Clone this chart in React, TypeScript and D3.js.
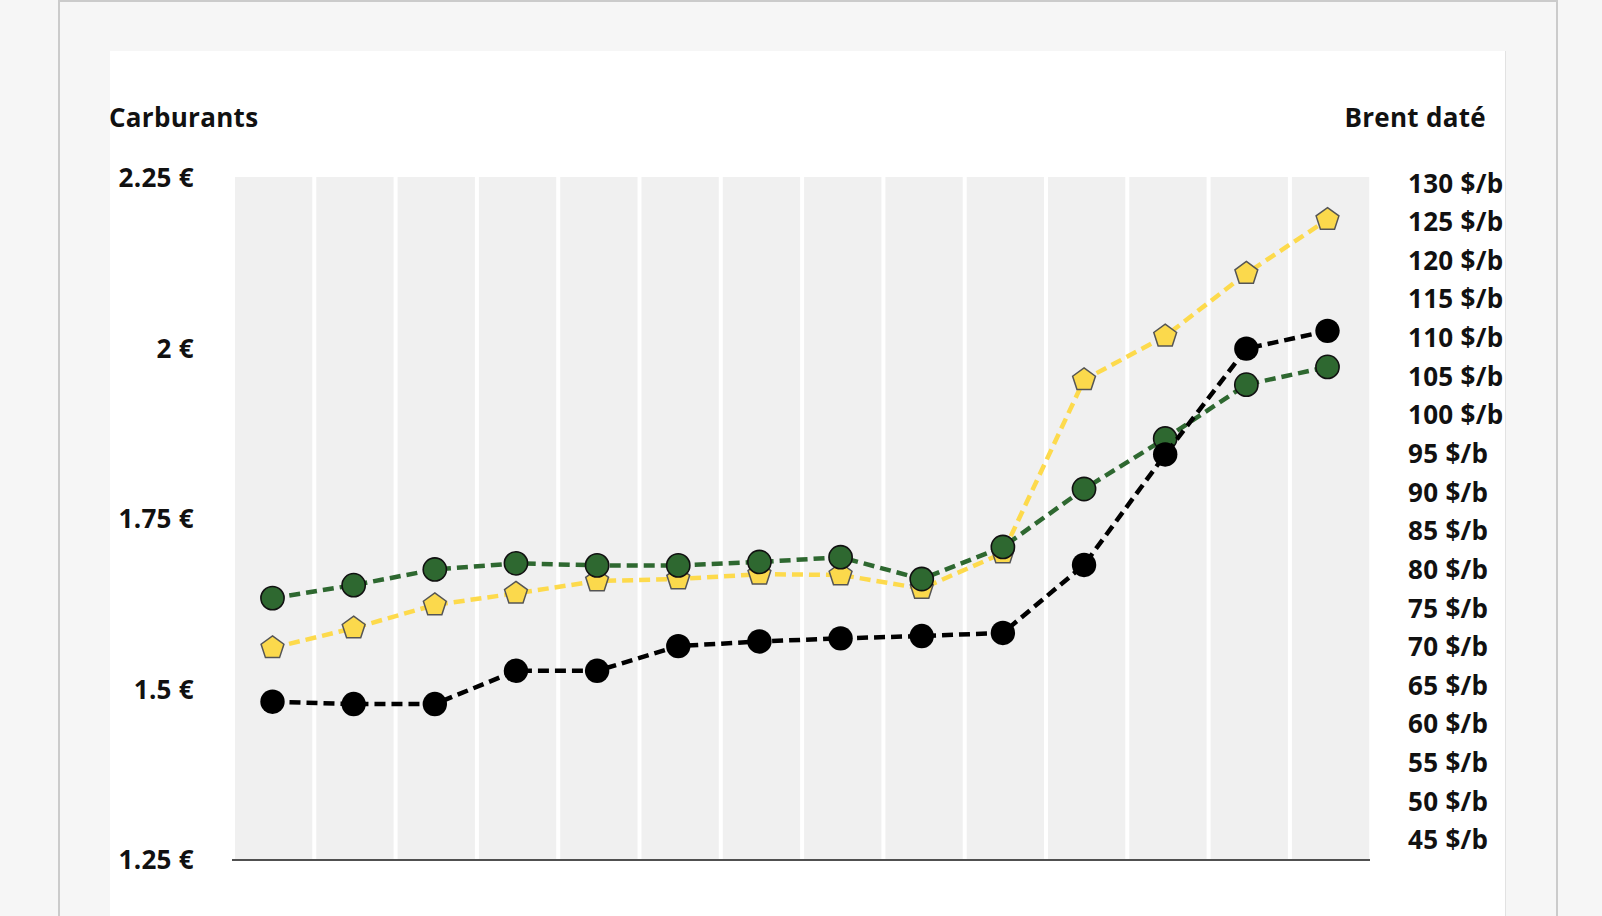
import React from "react";
import * as d3 from "d3";

// ---- data ----
const categories = ["P1", "P2", "P3", "P4", "P5", "P6", "P7", "P8", "P9", "P10", "P11", "P12", "P13", "P14"];
const gazole = [1.561, 1.59, 1.624, 1.641, 1.659, 1.662, 1.669, 1.668, 1.648, 1.7, 1.954, 2.018, 2.11, 2.189];
const sp95 = [1.634, 1.653, 1.676, 1.685, 1.682, 1.682, 1.687, 1.694, 1.662, 1.709, 1.794, 1.868, 1.947, 1.973];
const brent = [62.9, 62.6, 62.6, 66.9, 66.9, 70.1, 70.7, 71.1, 71.4, 71.8, 80.6, 94.9, 108.6, 110.9];

const leftTicks = [1.25, 1.5, 1.75, 2, 2.25];
const leftTickLabels = ["1.25 €", "1.5 €", "1.75 €", "2 €", "2.25 €"];
const rightTicks = [45, 50, 55, 60, 65, 70, 75, 80, 85, 90, 95, 100, 105, 110, 115, 120, 125, 130];
const rightTickLabels = rightTicks.map((v) => `${v} $/b`);
const leftTitle = "Carburants";
const rightTitle = "Brent daté";

const W = 1602;
const H = 916;

const FONT = "'Open Sans', 'Liberation Sans', sans-serif";

const pentagon = {
  draw(context: any, size: number) {
    const r = Math.sqrt(size / (2.5 * Math.sin((2 * Math.PI) / 5)));
    for (let i = 0; i < 5; i++) {
      const a = -Math.PI / 2 + (i * 2 * Math.PI) / 5;
      const px = r * Math.cos(a);
      const py = r * Math.sin(a);
      if (i === 0) context.moveTo(px, py);
      else context.lineTo(px, py);
    }
    context.closePath();
  },
};

export default function App() {
  const xBand = d3.scaleBand<string>().domain(categories).range([233, 1371.2]).paddingInner(0).paddingOuter(0);
  const xPt = d3.scalePoint<string>().domain(categories).range([272.5, 1327.5]);
  const yL = d3.scaleLinear().domain([1.25, 2.25]).range([860, 178]);
  const yR = d3.scaleLinear().domain([45, 130]).range([840, 183.3]);

  const plotTop = 177;
  const plotBottom = 860;
  const bw = xBand.bandwidth();

  const lineL = d3
    .line<number>()
    .x((_, i) => xPt(categories[i]) as number)
    .y((d) => yL(d));
  const lineR = d3
    .line<number>()
    .x((_, i) => xPt(categories[i]) as number)
    .y((d) => yR(d));

  const pentPath = d3.symbol().type(pentagon as any).size(2.378 * 12 * 12)() as string;

  const green = "#2e6830";
  const yellowLine = "#fdda4c";
  const yellowFill = "#fbd94c";

  const textStyle: React.CSSProperties = {
    fontFamily: FONT,
    fontWeight: 700,
    fontSize: 26,
    letterSpacing: 0.3,
  };

  return (
    <div style={{ position: "absolute", left: 0, top: 0, width: W, height: H, overflow: "hidden" }}>
      <svg width={W} height={H} style={{ display: "block" }}>
        <rect x={0} y={0} width={W} height={H} fill="#f6f6f6" />
        <rect x={59} y={1} width={1498} height={H + 20} fill="#f6f6f6" stroke="#cbcbcb" strokeWidth={2} />
        <rect x={110} y={51} width={1395} height={H} fill="#ffffff" />
        <line x1={1505.5} x2={1505.5} y1={51} y2={H} stroke="#e2e2e2" strokeWidth={1} />

        {/* background bands */}
        {categories.map((c) => (
          <rect
            key={c}
            x={(xBand(c) as number) + 2}
            y={plotTop}
            width={bw - 4}
            height={plotBottom - plotTop}
            fill="#f0f0f0"
          />
        ))}

        {/* axis line */}
        <line x1={232} x2={1370} y1={plotBottom} y2={plotBottom} stroke="#505050" strokeWidth={2} />

        {/* titles */}
        <text x={109} y={117.5 + 9.3} style={textStyle} fill="#111">
          {leftTitle}
        </text>
        <text x={1486} y={117.5 + 9.3} textAnchor="end" style={textStyle} fill="#111">
          {rightTitle}
        </text>

        {/* left ticks */}
        {leftTicks.map((v, i) => (
          <text key={v} x={194} y={yL(v) + 9.3} textAnchor="end" style={textStyle} fill="#111">
            {leftTickLabels[i]}
          </text>
        ))}

        {/* right ticks */}
        {rightTicks.map((v, i) => (
          <text key={v} x={1408} y={yR(v) + 9.3} textAnchor="start" style={textStyle} fill="#111">
            {rightTickLabels[i]}
          </text>
        ))}

        {/* gazole (yellow pentagons) */}
        <path d={lineL(gazole) as string} fill="none" stroke={yellowLine} strokeWidth={4.5} strokeDasharray="11,6" />
        {gazole.map((v, i) => (
          <path
            key={"g" + i}
            d={pentPath}
            transform={`translate(${xPt(categories[i])},${yL(v)})`}
            fill={yellowFill}
            stroke="#555555"
            strokeWidth={1.5}
          />
        ))}

        {/* SP95 (green circles) */}
        <path d={lineL(sp95) as string} fill="none" stroke={green} strokeWidth={4.5} strokeDasharray="11,6" />
        {sp95.map((v, i) => (
          <circle
            key={"s" + i}
            cx={xPt(categories[i]) as number}
            cy={yL(v)}
            r={11.6}
            fill={green}
            stroke="#111"
            strokeWidth={1.6}
          />
        ))}

        {/* Brent (black circles) */}
        <path d={lineR(brent) as string} fill="none" stroke="#000" strokeWidth={4.5} strokeDasharray="11,6" />
        {brent.map((v, i) => (
          <circle key={"b" + i} cx={xPt(categories[i]) as number} cy={yR(v)} r={12.2} fill="#000" />
        ))}
      </svg>
    </div>
  );
}
